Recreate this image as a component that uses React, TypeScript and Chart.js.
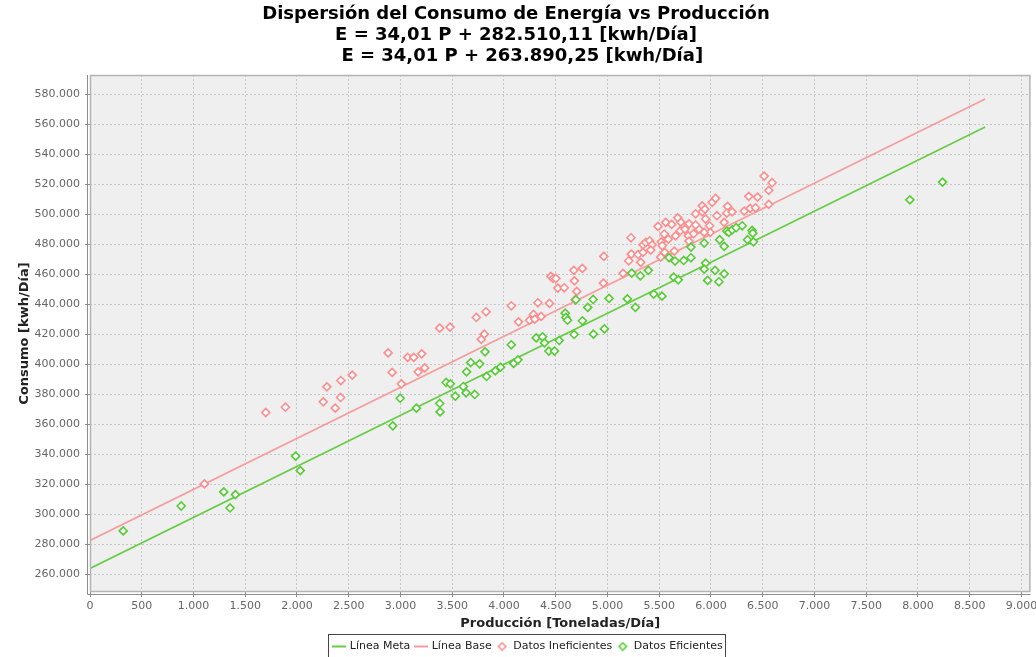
import React, { useEffect, useRef } from 'react';
import { Chart, registerables } from 'chart.js';

Chart.register(...registerables);

const titleLines = [
  'Dispersión del Consumo de Energía vs Producción',
  'E = 34,01 P + 282.510,11 [kwh/Día]',
  '  E = 34,01 P + 263.890,25 [kwh/Día]',
];
const xAxisTitle = 'Producción [Toneladas/Día]';
const yAxisTitle = 'Consumo [kwh/Día]';
const seriesNames = ['Línea Meta', 'Línea Base', 'Datos Ineficientes', 'Datos Eficientes'];

const lineX = [0, 8650];
const metaLineY = [263890.25, 558076.75];
const baseLineY = [282510.11, 576696.61];

const inefX = [
  1106, 1698, 1888, 2254, 2289, 2370, 2424, 2421, 2534, 2881, 2920, 3009, 3070, 3128, 3205, 3171,
  3234, 3379, 3479, 3733, 3827, 3810, 3781, 4071, 4141, 4247, 4286, 4299, 4360, 4328, 4440, 4453,
  4476, 4502, 4521, 4582, 4675, 4758, 4681, 4704, 4688, 4965, 4961, 5151, 5228, 5231, 5206, 5296,
  5322, 5344, 5344, 5370, 5408, 5431, 5418, 5489, 5520, 5530, 5549, 5553, 5515, 5563, 5621, 5679,
  5711, 5737, 5788, 5588, 5659, 5704, 5749, 5781, 5833, 5884, 5788, 5646, 5852, 5916, 5916, 5949,
  5987, 5993, 6012, 6045, 6058, 6128, 6161, 6154, 6205, 6321, 6366, 6379, 6450, 6431, 6559, 6559,
  5852, 6514, 6591, 5935, 5942,
];
const inefY = [
  320200, 367800, 371300, 374900, 384900, 370700, 389100, 377800, 392700, 407500, 394500, 386900,
  404500, 404500, 406900, 394900, 397500, 424000, 424700, 431100, 434900, 420000, 416500, 438900,
  428200, 429300, 433100, 430000, 431800, 440900, 440500, 458500, 457100, 457100, 450700, 450900,
  462500, 463800, 455500, 448500, 442900, 471800, 454000, 460500, 484200, 473300, 468900, 473100,
  467800, 479500, 474500, 481100, 482200, 479500, 476000, 491800, 481500, 478900, 486700, 474500,
  471300, 494500, 493100, 497500, 494500, 491300, 493500, 483300, 485500, 488900, 490000, 485500,
  486900, 490000, 482000, 475300, 500200, 501500, 505500, 496700, 492200, 487800, 507800, 510500,
  498900, 494500, 505100, 500700, 501500, 502000, 511800, 503800, 511300, 504200, 515800, 506500,
  492700, 525300, 520900, 487800, 503300,
];

const efX = [
  321, 881, 1293, 1405, 1353, 1987, 2032, 2926, 2997, 3154, 3379, 3383, 3441, 3482, 3530, 3608,
  3634, 3717, 3639, 3678, 3765, 3817, 3832, 3916, 3967, 4071, 4093, 4135, 4312, 4373, 4392, 4434,
  4488, 4534, 4592, 4598, 4614, 4678, 4695, 4758, 4810, 4862, 4865, 4971, 5016, 5192, 5270, 5235,
  5318, 5395, 5447, 5527, 5595, 5653, 5737, 5807, 5807, 5935, 5949, 5935, 6039, 6128, 5968, 6077,
  5640, 5684, 6084, 6128, 6154, 6173, 6205, 6244, 6302, 6398, 6405, 6354, 6411, 7922, 8238,
];
const efY = [
  288900, 305500, 314900, 313100, 304200, 338700, 329100, 358900, 377300, 370700, 373800, 368200,
  387800, 386900, 378700, 385100, 380900, 379800, 394900, 401100, 400200, 408200, 391800, 395500,
  398000, 412900, 400500, 402900, 417500, 418200, 414200, 408700, 408700, 415800, 434000, 431100,
  429300, 419800, 442900, 428900, 437800, 443100, 420000, 423500, 443800, 443500, 437800, 460700,
  458900, 462500, 446700, 445300, 471000, 468700, 469100, 470900, 478000, 480700, 467300, 463300,
  462500, 460200, 455800, 454900, 458000, 456200, 482900, 478500, 488700, 487800, 489500, 490900,
  492200, 489100, 487300, 482900, 481500, 509500, 521300,
];

const xTicks = [0, 500, 1000, 1500, 2000, 2500, 3000, 3500, 4000, 4500, 5000, 5500, 6000, 6500, 7000, 7500, 8000, 8500, 9000];
const yTicks = [260000, 280000, 300000, 320000, 340000, 360000, 380000, 400000, 420000, 440000, 460000, 480000, 500000, 520000, 540000, 560000, 580000];
const xRange = [0, 9087];
const yRange = [248200, 592667];

const RED = '#ff8c8c';
const RED_LINE = '#f59c9c';
const GREEN = '#55cc33';
const GREEN_LINE = '#66cc44';
const FONT = 'DejaVu Sans';

const fmt = (v: number) => String(Math.round(v)).replace(/\B(?=(\d{3})+(?!\d))/g, '.');

const zip = (xs: number[], ys: number[]) => xs.map((x, i) => ({ x, y: ys[i] }));

function lineIcon(color: string) {
  const c = document.createElement('canvas');
  c.width = 14;
  c.height = 4;
  const g = c.getContext('2d')!;
  g.strokeStyle = color;
  g.lineWidth = 2;
  g.beginPath();
  g.moveTo(0, 2);
  g.lineTo(14, 2);
  g.stroke();
  return c;
}

function diamondIcon(color: string) {
  const c = document.createElement('canvas');
  c.width = 10;
  c.height = 10;
  const g = c.getContext('2d')!;
  g.beginPath();
  g.moveTo(5, 1.3);
  g.lineTo(8.7, 5);
  g.lineTo(5, 8.7);
  g.lineTo(1.3, 5);
  g.closePath();
  g.fillStyle = '#ffffff';
  g.fill();
  g.strokeStyle = color;
  g.lineWidth = 1.6;
  g.stroke();
  return c;
}

const framePlugin = {
  id: 'frame',
  afterLayout(chart: any) {
    const lg = chart.legend;
    if (lg) {
      lg.left += 12;
      lg.right += 12;
    }
  },
  beforeDraw(chart: any) {
    const { ctx, chartArea: a } = chart;
    ctx.save();
    ctx.fillStyle = '#efefef';
    ctx.fillRect(a.left, a.top, a.right - a.left, a.bottom - a.top);
    ctx.restore();
  },
  afterDraw(chart: any) {
    const { ctx, chartArea: a } = chart;
    ctx.save();
    ctx.strokeStyle = '#b4b4b4';
    ctx.lineWidth = 1.5;
    ctx.strokeRect(a.left + 0.5, a.top + 0.5, a.right - a.left - 1, a.bottom - a.top - 1);
    ctx.strokeStyle = '#8c8c8c';
    ctx.lineWidth = 1;
    ctx.beginPath();
    ctx.moveTo(a.left - 2.5, a.top);
    ctx.lineTo(a.left - 2.5, a.bottom + 2.5);
    ctx.lineTo(a.right, a.bottom + 2.5);
    ctx.stroke();
    const lg = chart.legend;
    if (lg && lg.legendHitBoxes && lg.legendHitBoxes.length) {
      const hb = lg.legendHitBoxes;
      const left = Math.min(...hb.map((b: any) => b.left)) - 5;
      const right = Math.max(...hb.map((b: any) => b.left + b.width)) + 3;
      const top = hb[0].top - 7;
      const h = hb[0].height + 14;
      ctx.strokeStyle = '#444';
      ctx.lineWidth = 1;
      ctx.strokeRect(Math.round(left) + 0.5, Math.round(top) + 0.5, Math.round(right - left), Math.round(h) - 1);
    }
    ctx.restore();
  },
};

export default function App() {
  const ref = useRef<HTMLCanvasElement | null>(null);

  useEffect(() => {
    if (!ref.current) return;
    const icons = [lineIcon(GREEN_LINE), lineIcon(RED_LINE), diamondIcon(RED), diamondIcon(GREEN)];
    const tickFont = { family: FONT, size: 11 };
    const titleFont = { family: FONT, size: 13, weight: 'bold' as const };

    const chart = new Chart(ref.current, {
      type: 'scatter',
      data: {
        datasets: [
          {
            label: seriesNames[0],
            data: zip(lineX, metaLineY),
            showLine: true,
            borderColor: GREEN_LINE,
            borderWidth: 1.6,
            pointRadius: 0,
            order: 2,
          },
          {
            label: seriesNames[1],
            data: zip(lineX, baseLineY),
            showLine: true,
            borderColor: RED_LINE,
            borderWidth: 1.6,
            pointRadius: 0,
            order: 2,
          },
          {
            label: seriesNames[2],
            data: zip(inefX, inefY),
            pointStyle: 'rectRot',
            pointRadius: 4,
            pointBorderWidth: 1.6,
            pointBorderColor: RED,
            pointBackgroundColor: '#ffffff',
            order: 1,
          },
          {
            label: seriesNames[3],
            data: zip(efX, efY),
            pointStyle: 'rectRot',
            pointRadius: 4,
            pointBorderWidth: 1.6,
            pointBorderColor: GREEN,
            pointBackgroundColor: '#ffffff',
            order: 0,
          },
        ],
      },
      options: {
        responsive: false,
        animation: false,
        events: [],
        layout: { padding: { left: 0, right: 4, top: 0, bottom: 0 } },
        plugins: {
          title: {
            display: true,
            text: titleLines,
            color: '#000000',
            font: { family: FONT, size: 18, weight: 'bold', lineHeight: '21px' } as any,
            padding: { top: 4, bottom: 8 },
          },
          legend: {
            position: 'bottom',
            labels: {
              usePointStyle: true,
              padding: 5,
              color: '#222222',
              font: { family: FONT, size: 11 },
              generateLabels: () =>
                seriesNames.map((name, i) => ({
                  text: name,
                  pointStyle: icons[i] as any,
                  fillStyle: '#ffffff',
                  strokeStyle: '#ffffff',
                  lineWidth: 0,
                  hidden: false,
                  datasetIndex: i,
                  fontColor: '#222222',
                })),
            },
          },
          tooltip: { enabled: false },
        },
        scales: {
          x: {
            type: 'linear',
            min: xRange[0],
            max: xRange[1],
            afterBuildTicks: (s: any) => {
              s.ticks = xTicks.map((v) => ({ value: v }));
            },
            afterFit: (s: any) => {
              s.height = 44;
              s.paddingLeft = 0;
              s.paddingRight = 0;
            },
            ticks: {
              callback: (v: any) => fmt(Number(v)),
              font: tickFont,
              color: '#666666',
              padding: 3,
              maxRotation: 0,
              autoSkip: false,
            },
            grid: { color: '#c6c6c6', lineWidth: 1, drawTicks: true, tickLength: 5, tickColor: '#8c8c8c' },
            border: { display: false, dash: [2, 2] },
            title: { display: true, text: xAxisTitle, color: '#222222', font: titleFont, padding: { top: 0, bottom: 5 } },
          },
          y: {
            type: 'linear',
            min: yRange[0],
            max: yRange[1],
            afterBuildTicks: (s: any) => {
              s.ticks = yTicks.map((v) => ({ value: v }));
            },
            afterFit: (s: any) => {
              s.width = 90;
              s.paddingTop = 0;
              s.paddingBottom = 0;
            },
            ticks: {
              callback: (v: any) => fmt(Number(v)),
              font: tickFont,
              color: '#666666',
              padding: 5,
              autoSkip: false,
            },
            grid: { color: '#c6c6c6', lineWidth: 1, drawTicks: true, tickLength: 5, tickColor: '#8c8c8c' },
            border: { display: false, dash: [2, 2] },
            title: { display: true, text: yAxisTitle, color: '#222222', font: titleFont, padding: { top: 17, bottom: 0 } },
          },
        },
      },
      plugins: [framePlugin],
    });
    return () => chart.destroy();
  }, []);

  return (
    <div style={{ position: 'fixed', left: 0, top: 0, width: 1036, height: 657, overflow: 'hidden', background: '#ffffff' }}>
      <canvas ref={ref} width={1036} height={662} style={{ display: 'block' }} />
    </div>
  );
}
